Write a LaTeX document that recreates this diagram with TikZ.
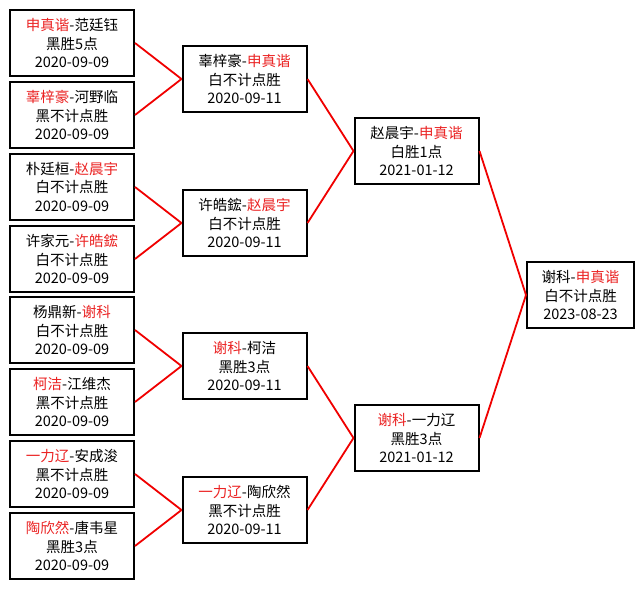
\documentclass[tikz,border=0pt]{standalone}
\usepackage{fontspec}
\newfontfamily\cjk{Noto Sans CJK SC}
\usepackage{xcolor}
\definecolor{wred}{RGB}{235,35,35}
\definecolor{lred}{RGB}{240,0,0}
\newcommand{\wn}[1]{\textcolor{wred}{#1}}

\begin{document}
\begin{tikzpicture}[x=1pt,y=-1pt,
  game/.style={draw,line width=2pt,minimum width=124pt,minimum height=66pt,inner sep=0pt,
    font=\cjk\fontsize{14.5}{18.5}\selectfont,align=center},
  final/.style={game,minimum width=107pt},
  link/.style={lred,line width=1.8pt}
]
  \useasboundingbox[fill=white] (0,0) rectangle (644,589);
  % Round 1
  \node[game] (a1) at (72,43) {\wn{申真谐}-范廷钰\\黑胜5点\\2020-09-09};
  \node[game] (a2) at (72,115) {\wn{辜梓豪}-河野临\\黑不计点胜\\2020-09-09};
  \node[game] (a3) at (72,187) {朴廷桓-\wn{赵晨宇}\\白不计点胜\\2020-09-09};
  \node[game] (a4) at (72,259) {许家元-\wn{许皓鋐}\\白不计点胜\\2020-09-09};
  \node[game] (a5) at (72,330) {杨鼎新-\wn{谢科}\\白不计点胜\\2020-09-09};
  \node[game] (a6) at (72,402) {\wn{柯洁}-江维杰\\黑不计点胜\\2020-09-09};
  \node[game] (a7) at (72,474) {\wn{一力辽}-安成浚\\黑不计点胜\\2020-09-09};
  \node[game] (a8) at (72,546) {\wn{陶欣然}-唐韦星\\黑胜3点\\2020-09-09};
  % Quarter finals
  \node[game] (b1) at (244.5,79) {辜梓豪-\wn{申真谐}\\白不计点胜\\2020-09-11};
  \node[game] (b2) at (244.5,223) {许皓鋐-\wn{赵晨宇}\\白不计点胜\\2020-09-11};
  \node[game] (b3) at (244.5,366) {\wn{谢科}-柯洁\\黑胜3点\\2020-09-11};
  \node[game] (b4) at (244.5,510) {\wn{一力辽}-陶欣然\\黑不计点胜\\2020-09-11};
  % Semi finals
  \node[game] (c1) at (416.5,151) {赵晨宇-\wn{申真谐}\\白胜1点\\2021-01-12};
  \node[game] (c2) at (416.5,438) {\wn{谢科}-一力辽\\黑胜3点\\2021-01-12};
  % Final
  \node[final] (d1) at (580.5,295) {谢科-\wn{申真谐}\\白不计点胜\\2023-08-23};
  % Bracket lines
  \draw[link] (a1.east) -- (b1.west);
  \draw[link] (a2.east) -- (b1.west);
  \draw[link] (a3.east) -- (b2.west);
  \draw[link] (a4.east) -- (b2.west);
  \draw[link] (a5.east) -- (b3.west);
  \draw[link] (a6.east) -- (b3.west);
  \draw[link] (a7.east) -- (b4.west);
  \draw[link] (a8.east) -- (b4.west);
  \draw[link] (b1.east) -- (c1.west);
  \draw[link] (b2.east) -- (c1.west);
  \draw[link] (b3.east) -- (c2.west);
  \draw[link] (b4.east) -- (c2.west);
  \draw[link] (c1.east) -- (d1.west);
  \draw[link] (c2.east) -- (d1.west);
\end{tikzpicture}
\end{document}
